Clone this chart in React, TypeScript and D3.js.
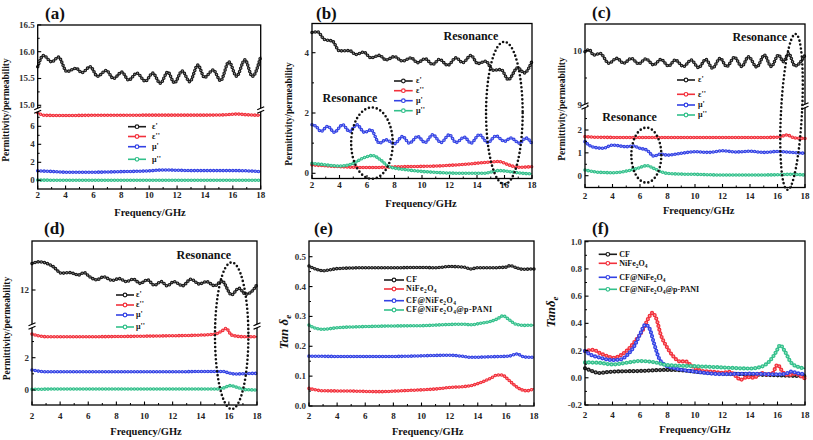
import React from 'react';
import * as d3 from 'd3';

type P = [number, number];

const FREQ_MAJOR = [2, 4, 6, 8, 10, 12, 14, 16, 18];
const FREQ_MINOR = [3, 5, 7, 9, 11, 13, 15, 17];

// ---------- (a) ----------
const A_EPS1: P[] = [[2, 15.72], [2.41, 15.93], [3.0, 15.81], [3.49, 15.9], [4.09, 15.63], [4.76, 15.69], [5.17, 15.61], [5.77, 15.72], [6.29, 15.54], [6.92, 15.65], [7.44, 15.5], [8.04, 15.62], [8.52, 15.47], [9.12, 15.6], [9.72, 15.45], [10.25, 15.6], [10.8, 15.41], [11.33, 15.62], [11.81, 15.42], [12.36, 15.64], [12.91, 15.44], [13.49, 15.75], [13.97, 15.52], [14.59, 15.66], [15.12, 15.46], [15.72, 15.81], [16.27, 15.54], [16.87, 15.85], [17.4, 15.54], [18, 15.91]];
const A_EPS2: P[] = [[2, 7.5], [2.5, 7.22], [4, 7.2], [6, 7.22], [8, 7.22], [10, 7.24], [12, 7.24], [14, 7.24], [15.5, 7.28], [16.3, 7.36], [17, 7.28], [18, 7.22]];
const A_MU1: P[] = [[2, 1.05], [3, 0.98], [4, 0.9], [6, 0.9], [8, 0.96], [10, 1.05], [11, 1.15], [12, 1.12], [13, 1.08], [14, 1.08], [16, 1.08], [17, 1.05], [18, 0.96]];
const A_MU2: P[] = [[2, 0.02], [6, 0.0], [10, 0.01], [14, 0.0], [18, 0.0]];

// ---------- (b) ----------
const B_EPS1: P[] = [[2, 4.67], [2.41, 4.69], [2.9, 4.44], [3.5, 4.38], [3.99, 4.06], [4.72, 4.07], [5.2, 3.94], [5.76, 4.02], [6.29, 3.83], [6.9, 3.91], [7.38, 3.76], [7.99, 3.87], [8.59, 3.72], [9.2, 3.83], [9.68, 3.67], [10.22, 3.8], [10.78, 3.61], [11.26, 3.78], [11.87, 3.58], [12.47, 3.83], [12.96, 3.67], [13.56, 3.91], [14.05, 3.64], [14.65, 3.72], [15.14, 3.42], [15.75, 3.44], [16.28, 3.11], [16.96, 3.5], [17.44, 3.33], [18, 3.72]];
const B_EPS2: P[] = [[2, 0.28], [4, 0.22], [6.3, 0.19], [8.6, 0.22], [11, 0.24], [13.4, 0.31], [14.9, 0.37], [15.6, 0.39], [16.3, 0.28], [17, 0.2], [18, 0.22]];
const B_MU1: P[] = [[2, 1.61], [2.29, 1.56], [2.65, 1.39], [3.14, 1.56], [3.62, 1.36], [4.23, 1.61], [4.72, 1.39], [5.27, 1.61], [5.81, 1.36], [6.29, 1.44], [6.9, 1.0], [7.38, 1.11], [7.99, 0.98], [8.59, 1.22], [9.08, 1.0], [9.68, 1.22], [10.22, 1.02], [10.78, 1.28], [11.38, 1.02], [11.99, 1.28], [12.47, 1.02], [13.08, 1.2], [13.56, 1.0], [14.17, 1.28], [14.78, 1.02], [15.38, 1.24], [15.99, 1.06], [16.47, 1.17], [17.08, 1.0], [17.56, 1.17], [18, 0.98]];
const B_MU2: P[] = [[2, 0.33], [3, 0.28], [4, 0.24], [5, 0.33], [5.7, 0.5], [6.4, 0.59], [7.0, 0.44], [7.6, 0.22], [9, 0.11], [11, 0.03], [13, 0.0], [14.5, 0.0], [15.6, 0.09], [16.3, 0.06], [17.3, 0.0], [18, -0.02]];

// ---------- (c) ----------
const C_EPS1: P[] = [[2, 9.98], [2.3, 10.02], [2.63, 9.92], [3.11, 9.95], [3.72, 9.77], [4.32, 9.86], [4.81, 9.77], [5.37, 9.86], [5.9, 9.76], [6.43, 9.85], [6.99, 9.74], [7.52, 9.84], [8.08, 9.72], [8.56, 9.83], [9.17, 9.71], [9.72, 9.83], [10.26, 9.69], [10.79, 9.84], [11.27, 9.68], [11.83, 9.86], [12.31, 9.71], [12.87, 9.88], [13.4, 9.71], [13.89, 9.89], [14.49, 9.7], [15.05, 9.92], [15.54, 9.71], [16.07, 9.92], [16.43, 9.8], [16.8, 9.95], [17.28, 9.72], [18, 9.92]];
const C_EPS2: P[] = [[2, 1.71], [3, 1.68], [6, 1.67], [10, 1.67], [14, 1.67], [16, 1.68], [16.7, 1.78], [17.2, 1.66], [18, 1.63]];
const C_MU1: P[] = [[2, 1.49], [2.5, 1.27], [3.3, 1.2], [4, 1.34], [5, 1.27], [5.5, 1.3], [6, 1.2], [6.5, 1.12], [7, 0.86], [7.5, 0.95], [8, 0.9], [9, 0.98], [10, 1.05], [11, 1.02], [12, 1.09], [13, 1.04], [14, 1.07], [15, 1.02], [16, 1.06], [17, 1.02], [18, 0.98]];
const C_MU2: P[] = [[2, 0.25], [3, 0.15], [4, 0.13], [5, 0.2], [5.8, 0.32], [6.5, 0.44], [7, 0.32], [7.5, 0.18], [8, 0.1], [9, 0.07], [10, 0.06], [12, 0.03], [14, 0.03], [16, 0.04], [17, 0.06], [18, 0.03]];

// ---------- (d) ----------
const D_EPS1: P[] = [[2, 12.44], [2.5, 12.47], [3.5, 12.39], [4.1, 12.28], [4.7, 12.29], [5.3, 12.25], [5.7, 12.29], [6.1, 12.22], [6.6, 12.17], [7.1, 12.22], [7.7, 12.16], [8.2, 12.19], [8.7, 12.14], [9.2, 12.18], [9.7, 12.11], [10.2, 12.17], [10.7, 12.08], [11.2, 12.14], [11.6, 12.07], [12.1, 12.14], [12.7, 12.07], [13.3, 12.18], [13.9, 12.1], [14.4, 12.14], [15.0, 12.07], [15.5, 12.15], [16.2, 11.92], [16.7, 12.03], [17.2, 11.93], [17.6, 11.97], [18, 12.09]];
const D_EPS2: P[] = [[2, 3.46], [3, 3.3], [6, 3.3], [9, 3.32], [12, 3.36], [14, 3.4], [15, 3.46], [15.5, 3.65], [15.8, 3.81], [16.2, 3.4], [17, 3.3], [18, 3.3]];
const D_MU1: P[] = [[2, 1.24], [3, 1.13], [8, 1.13], [12, 1.13], [15, 1.15], [15.6, 1.15], [16, 1.05], [16.5, 0.99], [17.3, 1.02], [18, 1.03]];
const D_MU2: P[] = [[2, 0.04], [4, 0.06], [10, 0.06], [15, 0.06], [15.6, 0.12], [16.1, 0.27], [16.6, 0.16], [17.2, 0.02], [18, 0.0]];

// ---------- (e) ----------
const E_CF: P[] = [[2, 0.469], [2.5, 0.458], [3, 0.453], [3.5, 0.456], [4, 0.46], [6, 0.463], [8, 0.463], [10, 0.464], [11, 0.463], [12, 0.467], [13, 0.465], [13.5, 0.459], [14, 0.463], [15, 0.463], [16, 0.465], [16.3, 0.47], [16.8, 0.462], [17.2, 0.458], [18, 0.459]];
const E_NF: P[] = [[2, 0.059], [3, 0.051], [5, 0.05], [7, 0.048], [9, 0.052], [10, 0.054], [11, 0.057], [12, 0.062], [13, 0.065], [13.5, 0.068], [14, 0.075], [14.5, 0.084], [15, 0.095], [15.4, 0.104], [15.7, 0.104], [16.2, 0.087], [16.6, 0.07], [17, 0.057], [17.5, 0.051], [18, 0.058]];
const E_CFNF: P[] = [[2, 0.167], [4, 0.166], [8, 0.166], [12, 0.17], [13, 0.166], [13.5, 0.163], [15, 0.165], [16.2, 0.167], [16.8, 0.174], [17.3, 0.164], [18, 0.163]];
const E_PANI: P[] = [[2, 0.271], [2.5, 0.26], [3, 0.257], [4, 0.262], [6, 0.266], [8, 0.268], [10, 0.269], [12, 0.273], [13, 0.274], [13.5, 0.272], [14.3, 0.278], [14.9, 0.283], [15.4, 0.292], [15.8, 0.302], [16.2, 0.29], [16.7, 0.274], [17.3, 0.27], [18, 0.271]];

// ---------- (f) ----------
const F_CF: P[] = [[2, 0.07], [2.5, 0.05], [3, 0.035], [3.5, 0.04], [4, 0.045], [6, 0.05], [8, 0.058], [9, 0.055], [10, 0.045], [12, 0.032], [14, 0.025], [16, 0.018], [18, 0.012]];
const F_NF: P[] = [[2, 0.196], [2.6, 0.205], [3.1, 0.18], [3.6, 0.16], [4.1, 0.147], [4.6, 0.166], [5.2, 0.215], [5.7, 0.277], [6.2, 0.35], [6.6, 0.436], [6.9, 0.477], [7.2, 0.43], [7.5, 0.32], [7.9, 0.235], [8.4, 0.16], [8.9, 0.12], [9.3, 0.12], [9.8, 0.085], [10.5, 0.05], [11.2, 0.045], [12, 0.037], [12.5, 0.044], [13, 0.01], [13.3, -0.015], [13.8, 0.005], [14.3, 0.0], [14.8, 0.035], [15.2, 0.025], [15.6, 0.03], [16, 0.095], [16.4, 0.04], [16.8, 0.02], [17.3, 0.03], [17.7, 0.01], [18, -0.005]];
const F_CFNF: P[] = [[2, 0.196], [2.5, 0.165], [3, 0.15], [4, 0.13], [4.6, 0.135], [5.1, 0.17], [5.6, 0.235], [6, 0.32], [6.4, 0.39], [6.7, 0.36], [7, 0.26], [7.4, 0.14], [7.9, 0.09], [8.6, 0.068], [10, 0.045], [12, 0.027], [14, 0.03], [15, 0.028], [16, 0.025], [16.6, 0.03], [17, 0.045], [17.5, 0.032], [18, 0.027]];
const F_PANI: P[] = [[2, 0.113], [3, 0.11], [4, 0.098], [5, 0.11], [6, 0.123], [7, 0.115], [8, 0.093], [10, 0.085], [12, 0.076], [14, 0.068], [14.8, 0.08], [15.4, 0.12], [15.9, 0.19], [16.2, 0.24], [16.5, 0.2], [17, 0.11], [17.5, 0.08], [18, 0.068]];

const COL = { k: '#1c1c1c', r: '#f2313c', b: '#3342e4', g: '#33c08b' };
const FONT = '"Liberation Serif","Times New Roman",serif';

const PERM_LABELS = ["ε'", "ε''", "μ'", "μ''"];

function Sub({ s }: { s: string }) {
  return <tspan dy={2} fontSize={5.5}>{s}</tspan>;
}
const NF_LABEL = (
  <>
    <tspan>NiFe</tspan><Sub s="2" /><tspan dy={-2}>O</tspan><Sub s="4" />
  </>
);
const CFNF_LABEL = (
  <>
    <tspan>CF@NiFe</tspan><Sub s="2" /><tspan dy={-2}>O</tspan><Sub s="4" />
  </>
);
const PANI_LABEL = (
  <>
    <tspan>CF@NiFe</tspan><Sub s="2" /><tspan dy={-2}>O</tspan><Sub s="4" /><tspan dy={-2}>@p-PANI</tspan>
  </>
);
const TAN_LABELS: React.ReactNode[] = ['CF', NF_LABEL, CFNF_LABEL, PANI_LABEL];

function Curve({ data, x, y, color, w, gap }: any) {
  const gen = d3.line<P>().x((d) => x(d[0])).y((d) => y(d[1])).curve(d3.curveMonotoneX);
  const dd = gen(data) || '';
  return (
    <g fill="none">
      <path d={dd} stroke={color} strokeWidth={1.4} />
      <path d={dd} stroke={color} strokeWidth={w} strokeLinecap="round" strokeDasharray={`0 ${gap}`} />
      <path d={dd} stroke="#fff" strokeOpacity={0.55} strokeWidth={w * 0.38} strokeLinecap="round" strokeDasharray={`0 ${gap}`} />
    </g>
  );
}

interface Seg { d: [number, number]; rg: [number, number]; major: number[]; minor: number[]; fmt: (v: number) => string; }

function Panel(p: any) {
  const { l, r, t, b } = p;
  const x = d3.scaleLinear().domain([2, 18]).range([l, r]);
  const ys = p.segs.map((s: Seg) => d3.scaleLinear().domain(s.d).range(s.rg));
  const segTop = (i: number) => (i === 0 ? t : p.breakY);
  const segBot = (i: number) => (i === p.segs.length - 1 ? b : p.breakY);
  const dot = p.dot || { w: 3.6, gap: 3.2 };
  return (
    <g>
      {p.series.map((s: any, i: number) => (
        <Curve key={i} data={s.data} x={x} y={ys[s.seg]} color={s.color} w={dot.w} gap={dot.gap} />
      ))}
      <rect x={l} y={t} width={r - l} height={b - t} fill="none" stroke="#000" strokeWidth={1.3} />
      {FREQ_MAJOR.map((f) => (
        <g key={'xm' + f}>
          <line x1={x(f)} x2={x(f)} y1={b} y2={b - 3.5} stroke="#000" strokeWidth={1.1} />
          <text x={x(f)} y={b + p.xtickOff} textAnchor="middle" fontSize={9} fontWeight="bold" fill="#222">{f}</text>
        </g>
      ))}
      {FREQ_MINOR.map((f) => (
        <line key={'xn' + f} x1={x(f)} x2={x(f)} y1={b} y2={b - 2} stroke="#000" strokeWidth={1} />
      ))}
      {p.segs.map((s: Seg, i: number) => {
        const y = ys[i];
        const inside = (v: number) => y(v) >= segTop(i) - 0.6 && y(v) <= segBot(i) + 0.6;
        return (
          <g key={'ys' + i}>
            {s.major.filter(inside).map((v) => (
              <g key={'ym' + v}>
                <line x1={l} x2={l + 3.5} y1={y(v)} y2={y(v)} stroke="#000" strokeWidth={1.1} />
                <text x={l - 3} y={y(v)} dy="0.33em" textAnchor="end" fontSize={9} fontWeight="bold" fill="#333">{s.fmt(v)}</text>
              </g>
            ))}
            {s.minor.filter(inside).map((v) => (
              <line key={'yn' + v} x1={l} x2={l + 2} y1={y(v)} y2={y(v)} stroke="#000" strokeWidth={1} />
            ))}
          </g>
        );
      })}
      {p.breakY != null && [l, r].map((bx) => (
        <g key={'br' + bx}>
          <rect x={bx - 2} y={p.breakY - 1.8} width={4} height={3.6} fill="#fff" />
          <line x1={bx - 3.5} y1={p.breakY - 0.3} x2={bx + 3.5} y2={p.breakY - 3.3} stroke="#000" strokeWidth={1.2} />
          <line x1={bx - 3.5} y1={p.breakY + 3.3} x2={bx + 3.5} y2={p.breakY + 0.3} stroke="#000" strokeWidth={1.2} />
        </g>
      ))}
      {p.legend.rows.map((ry: number, i: number) => (
        <g key={'lg' + i}>
          <line x1={p.legend.x1} x2={p.legend.x2} y1={ry} y2={ry} stroke={p.series[i].color} strokeWidth={1.6} />
          <circle cx={(p.legend.x1 + p.legend.x2) / 2} cy={ry} r={1.8} fill="#fff" stroke={p.series[i].color} strokeWidth={1.2} />
          <text x={p.legend.tx} y={ry} dy="0.3em" fontSize={p.legend.fs || 8} fontWeight="bold" fill="#111" letterSpacing={p.legend.ls || 0}>
            {p.legend.labels[i]}
          </text>
        </g>
      ))}
      {(p.ellipses || []).map((e: any, i: number) => {
        const cx = x(e.f);
        const cy = ys[e.seg](e.v);
        return (
          <ellipse key={'el' + i} cx={cx} cy={cy} rx={e.rx} ry={e.ry} transform={`rotate(${e.rot || 0} ${cx} ${cy})`}
            fill="none" stroke="#111" strokeWidth={2.6} strokeLinecap="round" strokeDasharray="0 4" />
        );
      })}
      {(p.notes || []).map((n: any, i: number) => (
        <text key={'nt' + i} x={x(n.f)} y={ys[n.seg](n.v)} dy="0.35em" textAnchor="middle" fontSize={12} fontWeight="bold" fill="#111">Resonance</text>
      ))}
      <text x={p.label.x} y={p.label.y} fontSize={17} fontWeight="bold" fill="#111">{p.label.s}</text>
      <text x={p.xt.x} y={p.xt.y} textAnchor="middle" fontSize={10.5} fontWeight="bold" fill="#111">Frequency/GHz</text>
      <text transform={`translate(${p.yt.x},${p.yt.y}) rotate(-90)`} textAnchor="middle" dy="0.35em" fontSize={p.yt.fs || 9.5} fontWeight="bold" fill="#111">
        {p.yt.content}
      </text>
    </g>
  );
}

const f1 = (v: number) => v.toFixed(1);
const f0 = (v: number) => String(v);
const PERM_TITLE = 'Permittivity/permeability';
const TAN_TITLE = (
  <>
    <tspan fontStyle="italic">Tan δ</tspan><tspan fontStyle="italic" dy={3} fontSize={9}>e</tspan>
  </>
);
const TAN_TITLE_F = (
  <>
    <tspan fontStyle="italic">Tanδ</tspan><tspan fontStyle="italic" dy={3} fontSize={9}>e</tspan>
  </>
);

export default function App() {
  return (
    <svg width={813} height={440} style={{ position: 'absolute', left: 0, top: 0, background: '#fff' }} fontFamily={FONT}>
      {/* (a) */}
      <Panel l={37.7} r={260.7} t={25} b={189} breakY={110} xtickOff={8.5}
        segs={[
          { d: [15, 16], rg: [105.3, 51.7], major: [15, 15.5, 16, 16.5], minor: [15.25, 15.75, 16.25], fmt: f1 },
          { d: [0, 6], rg: [180.3, 126.3], major: [0, 2, 4, 6], minor: [1, 3, 5, 7], fmt: f0 },
        ]}
        series={[
          { data: A_EPS1, color: COL.k, seg: 0 },
          { data: A_EPS2, color: COL.r, seg: 1 },
          { data: A_MU1, color: COL.b, seg: 1 },
          { data: A_MU2, color: COL.g, seg: 1 },
        ]}
        legend={{ x1: 128, x2: 146, tx: 152, rows: [126.7, 136.5, 146.7, 159.3], labels: PERM_LABELS }}
        label={{ s: '(a)', x: 45, y: 19 }}
        xt={{ x: 150, y: 215.5 }}
        yt={{ x: 6, y: 110, content: PERM_TITLE }}
      />
      {/* (b) */}
      <Panel l={312} r={532} t={23.5} b={178.5} xtickOff={9}
        segs={[{ d: [0, 4], rg: [173.3, 52.7], major: [0, 2, 4], minor: [1, 3], fmt: f0 }]}
        series={[
          { data: B_EPS1, color: COL.k, seg: 0 },
          { data: B_EPS2, color: COL.r, seg: 0 },
          { data: B_MU1, color: COL.b, seg: 0 },
          { data: B_MU2, color: COL.g, seg: 0 },
        ]}
        legend={{ x1: 394, x2: 412.7, tx: 416, rows: [81, 90.7, 100.7, 110.7], labels: PERM_LABELS }}
        ellipses={[
          { f: 6.36, v: 1.0, seg: 0, rx: 20.8, ry: 35.7 },
          { f: 15.99, v: 2.0, seg: 0, rx: 18.3, ry: 71.2 },
        ]}
        notes={[{ f: 4.76, v: 2.49, seg: 0 }, { f: 13.56, v: 4.55, seg: 0 }]}
        label={{ s: '(b)', x: 316, y: 19 }}
        xt={{ x: 421, y: 206.5 }}
        yt={{ x: 289, y: 114, content: PERM_TITLE }}
      />
      {/* (c) */}
      <Panel l={585} r={805} t={24} b={187.5} breakY={106} xtickOff={11}
        segs={[
          { d: [9, 10], rg: [105.3, 50.7], major: [9, 10], minor: [9.5], fmt: f0 },
          { d: [0, 2], rg: [175.7, 130], major: [0, 1, 2], minor: [0.5, 1.5, 2.5], fmt: f0 },
        ]}
        series={[
          { data: C_EPS1, color: COL.k, seg: 0 },
          { data: C_EPS2, color: COL.r, seg: 1 },
          { data: C_MU1, color: COL.b, seg: 1 },
          { data: C_MU2, color: COL.g, seg: 1 },
        ]}
        legend={{ x1: 677, x2: 695, tx: 698, rows: [80, 94.3, 105, 115], labels: PERM_LABELS }}
        ellipses={[
          { f: 6.46, v: 0.9, seg: 1, rx: 15, ry: 27.5 },
          { f: 17.02, v: 8.88, seg: 0, rx: 10.5, ry: 78, rot: 3 },
        ]}
        notes={[{ f: 5.24, v: 2.57, seg: 1 }, { f: 14.71, v: 10.25, seg: 0 }]}
        label={{ s: '(c)', x: 592, y: 18 }}
        xt={{ x: 698.7, y: 214 }}
        yt={{ x: 562, y: 109, content: PERM_TITLE }}
      />
      {/* (d) */}
      <Panel l={32} r={257} t={241} b={405} breakY={326} xtickOff={14}
        segs={[
          { d: [12, 13], rg: [290, 230], major: [12], minor: [], fmt: f0 },
          { d: [0, 2], rg: [390, 357.7], major: [0, 2], minor: [1, 3], fmt: f0 },
        ]}
        series={[
          { data: D_EPS1, color: COL.k, seg: 0 },
          { data: D_EPS2, color: COL.r, seg: 1 },
          { data: D_MU1, color: COL.b, seg: 1 },
          { data: D_MU2, color: COL.g, seg: 1 },
        ]}
        legend={{ x1: 116, x2: 134, tx: 136, rows: [295, 305, 315, 327], labels: PERM_LABELS }}
        ellipses={[{ f: 16.2, v: 3.36, seg: 1, rx: 16.7, ry: 73.3 }]}
        notes={[{ f: 14.22, v: 12.58, seg: 0 }]}
        label={{ s: '(d)', x: 44, y: 234 }}
        xt={{ x: 146, y: 434.5 }}
        yt={{ x: 6.7, y: 328.5, content: PERM_TITLE }}
      />
      {/* (e) */}
      <Panel l={309} r={534} t={241} b={406} xtickOff={13}
        segs={[{ d: [0, 0.5], rg: [406, 256.7], major: [0, 0.1, 0.2, 0.3, 0.4, 0.5], minor: [0.05, 0.15, 0.25, 0.35, 0.45], fmt: f1 }]}
        series={[
          { data: E_CF, color: COL.k, seg: 0 },
          { data: E_NF, color: COL.r, seg: 0 },
          { data: E_CFNF, color: COL.b, seg: 0 },
          { data: E_PANI, color: COL.g, seg: 0 },
        ]}
        legend={{ x1: 384, x2: 404, tx: 406, rows: [280, 289, 300.7, 310], labels: TAN_LABELS, ls: 0.4 }}
        label={{ s: '(e)', x: 314, y: 234 }}
        xt={{ x: 427.7, y: 434.5 }}
        yt={{ x: 283, y: 332, content: TAN_TITLE, fs: 13 }}
      />
      {/* (f) */}
      <Panel l={585} r={805} t={241} b={405} xtickOff={12.5}
        segs={[{ d: [-0.2, 1.0], rg: [405, 241.7], major: [-0.2, 0, 0.2, 0.4, 0.6, 0.8, 1.0], minor: [-0.1, 0.1, 0.3, 0.5, 0.7, 0.9], fmt: f1 }]}
        series={[
          { data: F_CF, color: COL.k, seg: 0 },
          { data: F_NF, color: COL.r, seg: 0 },
          { data: F_CFNF, color: COL.b, seg: 0 },
          { data: F_PANI, color: COL.g, seg: 0 },
        ]}
        dot={{ w: 4.2, gap: 3.8 }}
        legend={{ x1: 598.7, x2: 617, tx: 619.3, rows: [254.3, 263.3, 277.3, 289.3], labels: TAN_LABELS }}
        label={{ s: '(f)', x: 592, y: 234 }}
        xt={{ x: 695, y: 433 }}
        yt={{ x: 550, y: 312, content: TAN_TITLE_F, fs: 13 }}
      />
    </svg>
  );
}
